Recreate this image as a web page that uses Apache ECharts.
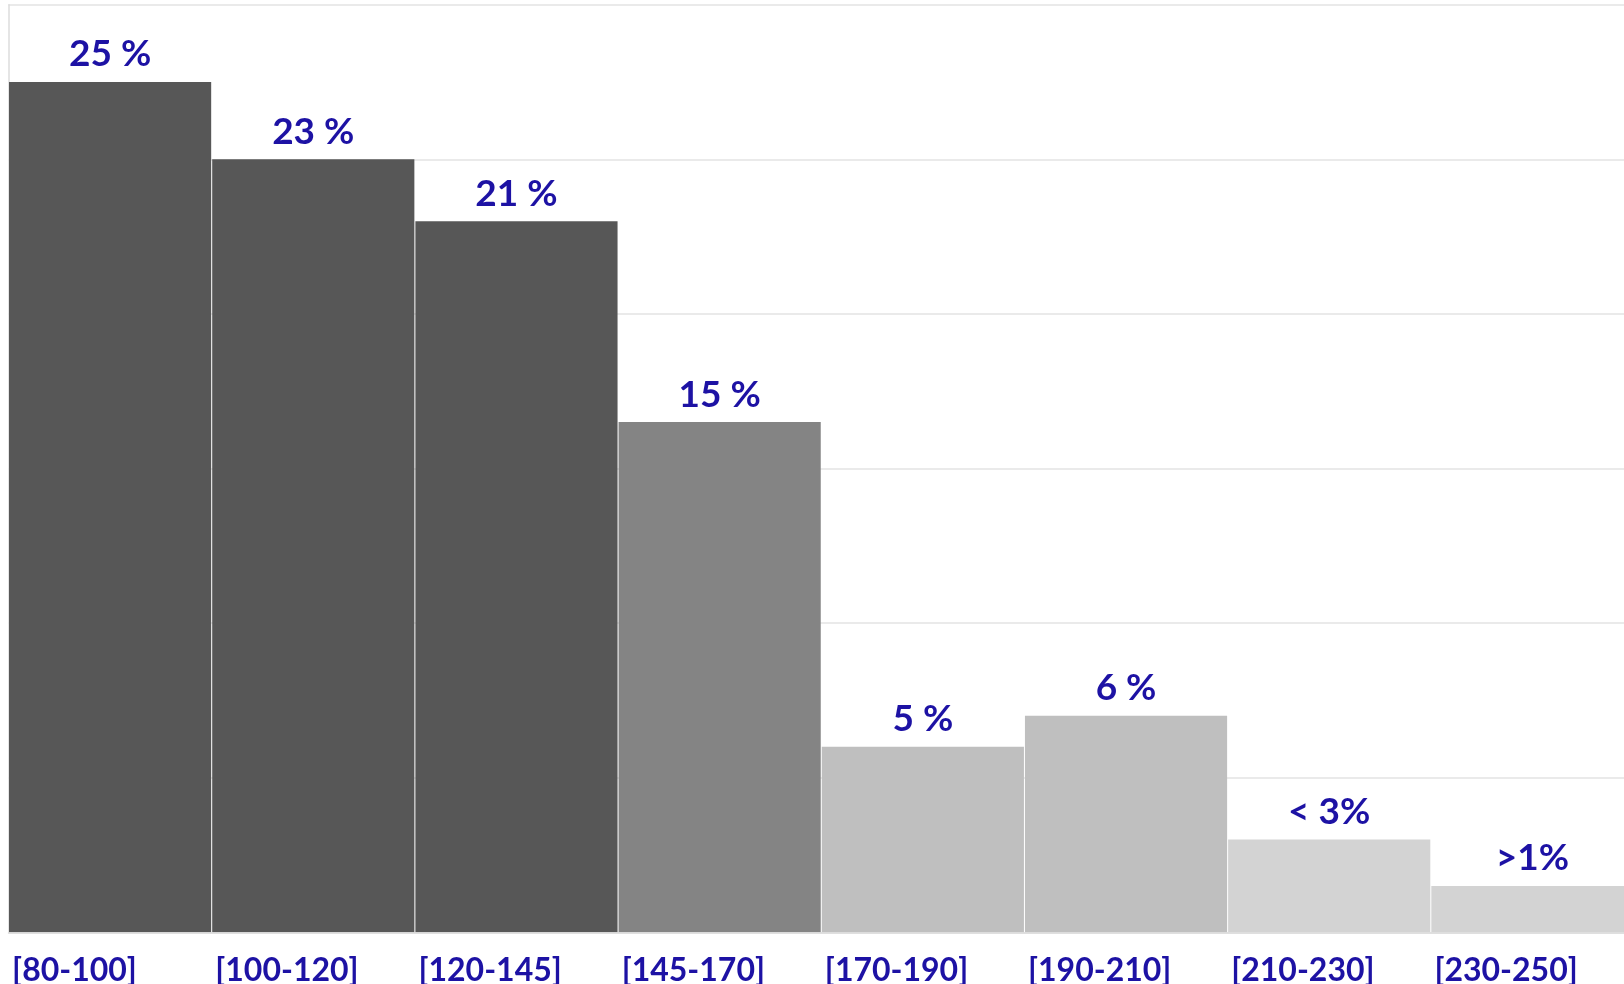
<!DOCTYPE html>
<html>
<head>
<meta charset="utf-8">
<script src="https://cdn.jsdelivr.net/npm/echarts@6/dist/echarts.min.js"></script>
<style>
  html, body { margin: 0; padding: 0; background: #fff; }
  #target { width: 1624px; height: 984px; }
</style>
</head>
<body>
<div id="target"></div>
<script>
// 区间类别
const categories = ["[80-100]", "[100-120]", "[120-145]", "[145-170]", "[170-190]", "[190-210]", "[210-230]", "[230-250]"];
// 柱高
const values = [27.5, 25, 23, 16.5, 6, 7, 3, 1.5];
// 柱顶标签文字
const labelTexts = ["25 %", "23 %", "21 %", "15 %", "5 %", "6 %", "< 3%", ">1%"];
// 柱子颜色
const barColors = ["#575757", "#575757", "#575757", "#848484", "#bfbfbf", "#bfbfbf", "#d3d3d3", "#d3d3d3"];

const labelColor = "#1d12a4";
const font = "Lato, 'Open Sans', sans-serif";

const myChart = echarts.init(document.getElementById("target"));

const options = {
  animation: false,
  grid: {
    left: 8.5,
    right: -10, // 最后一根柱子被画面右边裁掉
    top: 4.7,
    bottom: 51.7,
    containLabel: false,
    outerBoundsMode: "none", // 不要自动收缩网格
  },
  xAxis: {
    type: "category",
    data: categories,
    z: 3,
    axisTick: { show: false },
    axisLine: { show: true, lineStyle: { color: "#dcdcdc", width: 1.5 } },
    axisLabel: {
      margin: 22,
      formatter: (v) => "{a|" + v + "}",
      rich: {
        a: {
          width: 196,
          align: "left",
          fontFamily: font,
          fontWeight: "bold",
          fontSize: 32,
          color: labelColor,
        },
      },
    },
  },
  yAxis: {
    type: "value",
    min: 0,
    max: 30,
    interval: 5,
    axisLabel: { show: false },
    axisTick: { show: false },
    axisLine: { show: true, lineStyle: { color: "#dcdcdc", width: 1.5 } },
    splitLine: { show: true, lineStyle: { color: "#e3e3e3", width: 1.5 } },
  },
  series: [
    {
      type: "bar",
      barCategoryGap: "0.5%",
      data: values.map((v, i) => ({
        value: v,
        itemStyle: { color: barColors[i] },
      })),
      label: {
        show: true,
        position: "top",
        distance: 9,
        formatter: (p) => labelTexts[p.dataIndex],
        fontFamily: font,
        fontWeight: "bold",
        fontSize: 37,
        color: labelColor,
      },
    },
  ],
};

myChart.setOption(options);
</script>
</body>
</html>
